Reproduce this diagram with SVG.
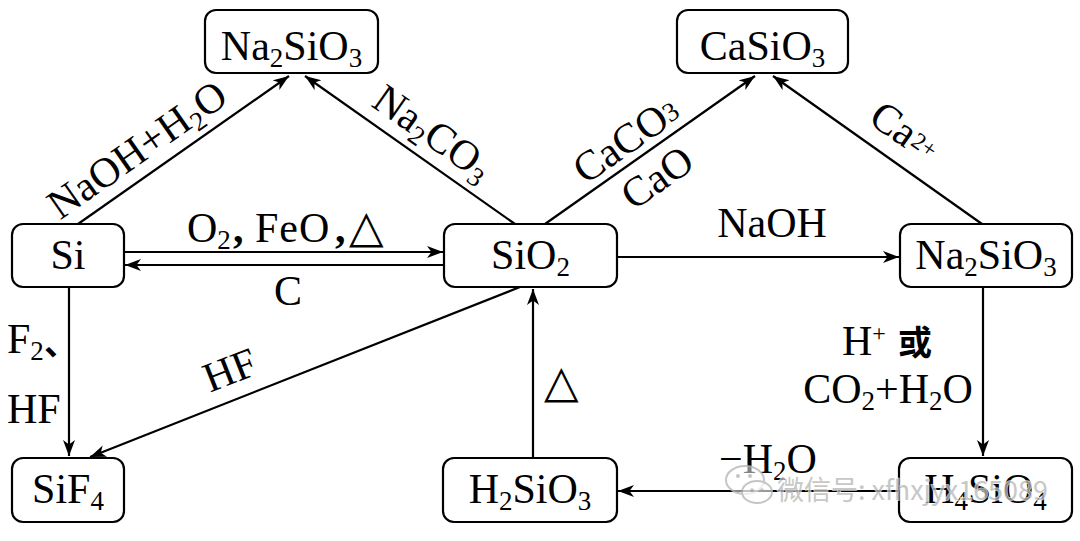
<svg xmlns="http://www.w3.org/2000/svg" width="1080" height="541" viewBox="0 0 1080 541">
<style>
.box{fill:#fff;stroke:#000;stroke-width:2.2}
.t{font-family:"Liberation Serif","Times New Roman",serif;font-size:42px;fill:#000}
.mid{text-anchor:middle}
.sub{font-size:27px}
.sup{font-size:24px}
.cjk{font-family:"Noto Sans CJK SC",sans-serif;font-weight:bold;font-size:34px}
.sym{font-family:"DejaVu Sans",sans-serif;font-size:45px}
.conn path{fill:none;stroke:#000;stroke-width:2.2;marker-end:url(#arr)}
.wm{font-family:"Noto Sans CJK SC",sans-serif;font-size:27px;fill:#b8b8b8;stroke:#fff;stroke-width:1.5;paint-order:stroke;opacity:0.9}
</style>
<defs>
<marker id="arr" markerUnits="userSpaceOnUse" markerWidth="18" markerHeight="14" refX="16" refY="6" orient="auto">
<path d="M0,0 L16,6 L0,12 L4.5,6 Z" fill="#000"/>
</marker>
</defs>
<rect width="1080" height="541" fill="#fff"/>

<g class="conn" id="connectors">
<path d="M78,224 L289,76"/>
<path d="M515,224 L305,76"/>
<path d="M545,224 L755,76"/>
<path d="M982,224 L773,76"/>
<path d="M124,252 L443,252"/>
<path d="M444,265 L125,265"/>
<path d="M617,257 L899,257"/>
<path d="M69,287 L69,456"/>
<path d="M520,287 L90,457"/>
<path d="M533,458 L533,289"/>
<path d="M983,287 L983,456"/>
<path d="M899,491 L618,491"/>
</g>

<g id="labels">
<text class="t mid" transform="translate(145,161) rotate(-35)">NaOH+H<tspan class="sub" dy="7">2</tspan><tspan dy="-7">O</tspan></text>
<text class="t mid" transform="translate(425,144) rotate(35)">Na<tspan class="sub" dy="7">2</tspan><tspan dy="-7">CO</tspan><tspan class="sub" dy="7">3</tspan></text>
<text class="t mid" transform="translate(634,151) rotate(-35)">CaCO<tspan class="sub" dy="-2">3</tspan></text>
<text class="t mid" transform="translate(665,189) rotate(-35)">CaO</text>
<text class="t mid" transform="translate(897,143) rotate(35)">Ca<tspan class="sup" dy="-6" dx="1">2+</tspan></text>
<text class="t mid" transform="translate(235,383) rotate(-21.5)">HF</text>
<text class="t" x="187" y="242">O<tspan class="sub" dy="7">2</tspan><tspan dy="-7" x="233" font-weight="bold">,</tspan><tspan x="255" letter-spacing="1">FeO</tspan><tspan x="335" font-weight="bold">,</tspan></text>
<text class="sym" x="349" y="242" font-size="47">△</text>
<text class="t mid" x="288" y="305">C</text>
<text class="t mid" x="772" y="237">NaOH</text>
<text class="t" x="7" y="353">F<tspan class="sub" dy="7">2</tspan></text>
<text class="cjk" x="44" y="355" font-weight="normal">、</text>
<text class="t" x="7" y="423">HF</text>
<text class="sym" x="544" y="397">△</text>
<text class="t" x="842" y="355">H<tspan class="sup" dy="-14">+</tspan></text>
<text class="cjk" x="898" y="355">或</text>
<text class="t mid" x="888" y="403">CO<tspan class="sub" dy="7">2</tspan><tspan dy="-7">+H</tspan><tspan class="sub" dy="7">2</tspan><tspan dy="-7">O</tspan></text>
<text class="t" x="719" y="473">−H<tspan class="sub" dy="7">2</tspan><tspan dy="-7">O</tspan></text>
</g>

<g id="n-na2sio3-top">
<rect class="box" x="205" y="10" width="173" height="63" rx="11"/>
<text class="t mid" x="291.5" y="60">Na<tspan class="sub" dy="7">2</tspan><tspan dy="-7">SiO</tspan><tspan class="sub" dy="7">3</tspan></text>
</g>
<g id="n-casio3">
<rect class="box" x="677" y="10" width="171" height="63" rx="11"/>
<text class="t mid" x="762.5" y="60">CaSiO<tspan class="sub" dy="7">3</tspan></text>
</g>
<g id="n-si">
<rect class="box" x="12" y="224" width="112" height="63" rx="11"/>
<text class="t mid" x="68" y="269">Si</text>
</g>
<g id="n-sio2">
<rect class="box" x="444" y="224" width="173" height="63" rx="11"/>
<text class="t mid" x="530.5" y="269">SiO<tspan class="sub" dy="7">2</tspan></text>
</g>
<g id="n-na2sio3-right">
<rect class="box" x="900" y="224" width="172" height="63" rx="11"/>
<text class="t mid" x="986" y="269">Na<tspan class="sub" dy="7">2</tspan><tspan dy="-7">SiO</tspan><tspan class="sub" dy="7">3</tspan></text>
</g>
<g id="n-sif4">
<rect class="box" x="12" y="458" width="112" height="64" rx="11"/>
<text class="t mid" x="68" y="503">SiF<tspan class="sub" dy="7">4</tspan></text>
</g>
<g id="n-h2sio3">
<rect class="box" x="443" y="458" width="174" height="64" rx="11"/>
<text class="t mid" x="530" y="503">H<tspan class="sub" dy="7">2</tspan><tspan dy="-7">SiO</tspan><tspan class="sub" dy="7">3</tspan></text>
</g>
<g id="n-h4sio4">
<rect class="box" x="899" y="458" width="173" height="64" rx="11"/>
<text class="t mid" x="985.5" y="503">H<tspan class="sub" dy="7">4</tspan><tspan dy="-7">SiO</tspan><tspan class="sub" dy="7">4</tspan></text>
</g>

<g id="watermark" opacity="0.85">
<ellipse cx="745" cy="480" rx="19" ry="14" fill="#fff" fill-opacity="0.6" stroke="#bbb" stroke-width="2"/>
<ellipse cx="757" cy="492" rx="15" ry="11" fill="#fff" fill-opacity="0.7" stroke="#bbb" stroke-width="2"/>
<circle cx="738" cy="476" r="2" fill="#bbb"/>
<circle cx="750" cy="476" r="2" fill="#bbb"/>
<circle cx="752" cy="490" r="1.8" fill="#bbb"/>
<circle cx="762" cy="490" r="1.8" fill="#bbb"/>
<text class="wm" x="777" y="500">微信号: xfhxjyx165089</text>
</g>
</svg>
